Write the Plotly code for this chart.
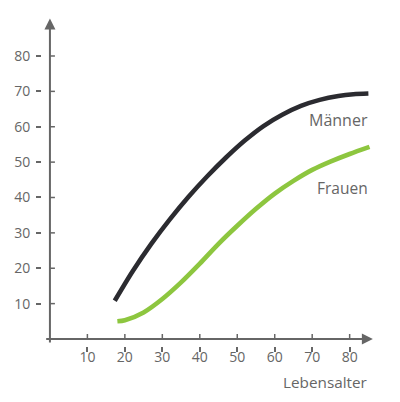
import plotly.graph_objects as go

# Data
age_m = [17.3, 22, 27, 32, 37, 42, 47, 52, 57, 62, 67, 72, 77, 81, 85]
maenner = [10.8, 19.0, 26.8, 33.8, 40.2, 46.0, 51.3, 56.1, 60.2, 63.4, 65.9, 67.6, 68.7, 69.2, 69.4]
age_f = [18, 20, 25, 30, 35, 40, 45, 50, 55, 60, 65, 70, 75, 80, 85.3]
frauen = [5.0, 5.3, 7.5, 11.3, 16.0, 21.3, 26.9, 32.0, 36.8, 41.1, 44.7, 47.8, 50.2, 52.3, 54.3]

x_ticks = [10, 20, 30, 40, 50, 60, 70, 80]
y_ticks = [10, 20, 30, 40, 50, 60, 70, 80]
x_label = "Lebensalter"
series_names = ["Männer", "Frauen"]

AX = "#666666"
FONT = "Open Sans"

fig = go.Figure()
fig.add_trace(go.Scatter(x=age_m, y=maenner, mode="lines", name=series_names[0],
                         line=dict(color="#2b2b30", width=4.6, shape="spline", smoothing=0.8)))
fig.add_trace(go.Scatter(x=age_f, y=frauen, mode="lines", name=series_names[1],
                         line=dict(color="#8dc63f", width=4.6, shape="spline", smoothing=0.8)))

shapes = []
# inner halves of ticks
for v in x_ticks:
    shapes.append(dict(type="line", xref="x", yref="y", x0=v, x1=v, y0=0, y1=5,
                       ysizemode="pixel", yanchor=0, line=dict(color=AX, width=1.5)))
for v in y_ticks:
    shapes.append(dict(type="line", xref="x", yref="y", x0=0, x1=5, y0=v, y1=v,
                       xsizemode="pixel", xanchor=0, line=dict(color=AX, width=1.5)))
fig.update_layout(shapes=shapes)

annotations = [
    # x axis with arrow
    dict(x=86.2, y=0, ax=-1.4, ay=0, xref="x", yref="y", axref="x", ayref="y",
         showarrow=True, arrowhead=2, arrowsize=1.1, arrowwidth=2, arrowcolor=AX, text=""),
    # y axis with arrow
    dict(x=0, y=90.6, ax=0, ay=-1.4, xref="x", yref="y", axref="x", ayref="y",
         showarrow=True, arrowhead=2, arrowsize=1.1, arrowwidth=2, arrowcolor=AX, text=""),
    dict(x=85.3, y=61.9, xref="x", yref="y", text=series_names[0], showarrow=False,
         xanchor="right", yanchor="middle", font=dict(family=FONT, size=16, color=AX)),
    dict(x=85.4, y=42.7, xref="x", yref="y", text=series_names[1], showarrow=False,
         xanchor="right", yanchor="middle", font=dict(family=FONT, size=15.5, color=AX)),
    dict(x=85.5, y=-0.107, xref="x", yref="paper", text=x_label, showarrow=False,
         xanchor="right", yanchor="middle", font=dict(family=FONT, size=15.3, color=AX)),
]
fig.update_layout(annotations=annotations)

fig.update_xaxes(range=[-2.116, 88.1], tickvals=x_ticks, ticks="outside", ticklen=5,
                 tickwidth=1.5, tickcolor=AX, showgrid=False, zeroline=False, showline=False,
                 ticklabelstandoff=-7,
                 tickfont=dict(family=FONT, size=14, color=AX))
fig.update_yaxes(range=[-1.98, 91.87], tickvals=y_ticks, ticks="outside", ticklen=5,
                 tickwidth=1.5, tickcolor=AX, showgrid=False, zeroline=False, showline=False,
                 ticklabelstandoff=3,
                 tickfont=dict(family=FONT, size=14, color=AX))

fig.update_layout(width=392, height=394, margin=dict(l=31, r=20, t=6, b=56),
                  paper_bgcolor="white", plot_bgcolor="white", showlegend=False)

fig.write_html("out.html")
